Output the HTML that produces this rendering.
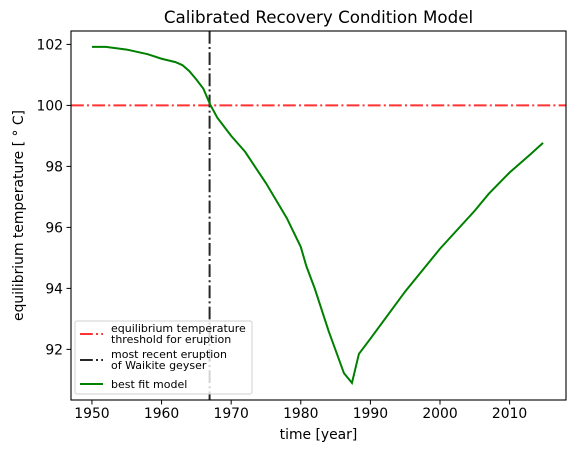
<!DOCTYPE html>
<html><head><meta charset="utf-8"><style>
body{margin:0;background:#fff}
text{font-family:"DejaVu Sans","Liberation Sans",sans-serif;fill:#000}
</style></head><body>
<svg id="chart" width="575" height="453" xmlns="http://www.w3.org/2000/svg"></svg>
<script>
const years=[1950,1952,1955,1958,1960,1962,1963,1964,1965,1966,1967,1968,1970,1972,1975,1978,1980,1980.8,1982,1984,1986.2,1987.35,1988.35,1990,1995,2000,2005,2007,2010,2013,2014.8];
const temps=[101.92,101.92,101.83,101.68,101.53,101.42,101.32,101.12,100.85,100.55,100.02,99.6,99.0,98.48,97.45,96.3,95.36,94.73,94.0,92.6,91.22,90.9,91.85,92.35,93.9,95.3,96.55,97.1,97.8,98.4,98.77];
const threshold=100;
const eruptionYear=1966.9;
const xTicks=[1950,1960,1970,1980,1990,2000,2010];
const yTicks=[92,94,96,98,100,102];
const L=71,R=566,T=31,B=400;
const x0=1946.99,x1=2018.1,y0=90.34,y1=102.44;
const sx=v=>L+(v-x0)/(x1-x0)*(R-L);
const sy=v=>B-(v-y0)/(y1-y0)*(B-T);
const svg=document.getElementById('chart');
const NS='http://www.w3.org/2000/svg';
function mk(tag,attrs,txt){const e=document.createElementNS(NS,tag);for(const k in attrs)e.setAttribute(k,attrs[k]);if(txt!==undefined)e.textContent=txt;svg.appendChild(e);return e;}
let e;
e=mk('line',{x1:L,x2:R,y1:sy(threshold),y2:sy(threshold),stroke:'#ff3333','stroke-width':2,'stroke-dasharray':'12.8,3.2,2,3.2'});


e=mk('line',{x1:sx(eruptionYear),x2:sx(eruptionYear),y1:T,y2:B,stroke:'#262626','stroke-width':2,'stroke-dasharray':'12.8,3.2,2,3.2'});


e=mk('polyline',{points:years.map((y,i)=>sx(y)+','+sy(temps[i])).join(' '),fill:'none',stroke:'#008000','stroke-width':2});


e=mk('rect',{x:L,y:T,width:R-L,height:B-T,fill:'none',stroke:'#000','stroke-width':1.1});


xTicks.forEach(t=>{
  e=mk('line',{x1:sx(t),x2:sx(t),y1:B,y2:B+4.5,stroke:'#000'});
  
  
  e=mk('text',{x:sx(t),y:B+18,'text-anchor':'middle','font-size':'13.9'},String(t));
  
  
});
yTicks.forEach(t=>{
  e=mk('line',{x1:L-4.5,x2:L,y1:sy(t),y2:sy(t),stroke:'#000'});
  
  
  e=mk('text',{x:L-8,y:sy(t)+5,'text-anchor':'end','font-size':'13.9'},String(t));
  
  
});
e=mk('text',{x:(L+R)/2,y:23,'text-anchor':'middle','font-size':'16.7'},'Calibrated Recovery Condition Model');


e=mk('text',{x:(L+R)/2,y:439,'text-anchor':'middle','font-size':'13.9'},'time [year]');


e=mk('text',{x:0,y:0,'text-anchor':'middle','font-size':'13.9',transform:'translate(23,'+((T+B)/2)+') rotate(-90)'},'equilibrium temperature [ ° C]');


e=mk('rect',{x:75,y:321,width:177,height:73,rx:2,fill:'#fff','fill-opacity':0.8,stroke:'#d0d0d0'});


const leg=[['#ff3333',true,['equilibrium temperature','threshold for eruption'],333],['#262626',true,['most recent eruption','of Waikite geyser'],359],['#008000',false,['best fit model'],384]];
leg.forEach(l=>{
  const ly=l[2].length>1?l[3]+1:l[3];
  e=mk('line',{x1:80,x2:103,y1:ly,y2:ly,stroke:l[0],'stroke-width':2,'stroke-dasharray':l[1]?'12.8,3.2,2,3.2':'none'});
  
  
  l[2].forEach((s,i)=>{
    e=mk('text',{x:111,y:l[3]-(l[2].length>1?1:-4)+i*11,'font-size':'11'},s);
    
    
  });
});
</script>
</body></html>
